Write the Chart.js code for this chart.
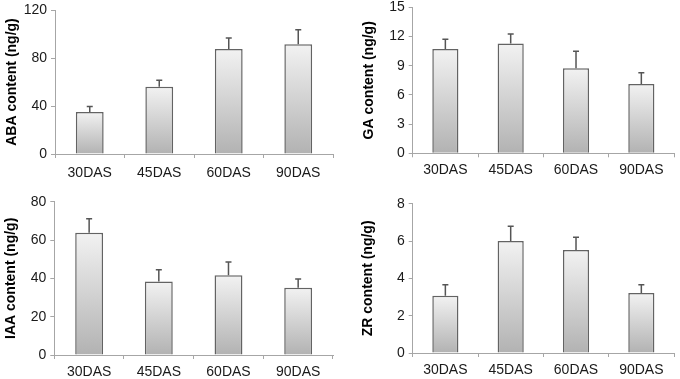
<!DOCTYPE html>
<html>
<head>
<meta charset="utf-8">
<script src="https://cdn.jsdelivr.net/npm/chart.js@4/dist/chart.umd.min.js"></script>
<style>
  html, body { margin: 0; padding: 0; background: #fff; }
  #wrap { position: relative; width: 680px; height: 379px; }
  .panel { position: absolute; }
</style>
</head>
<body>
<div id="wrap">
  <div class="panel" style="left:0;top:0;"><canvas id="c1" width="340" height="189"></canvas></div>
  <div class="panel" style="left:340px;top:0;"><canvas id="c2" width="340" height="189"></canvas></div>
  <div class="panel" style="left:0;top:189px;"><canvas id="c3" width="340" height="190"></canvas></div>
  <div class="panel" style="left:340px;top:189px;"><canvas id="c4" width="340" height="190"></canvas></div>
</div>
<script>
const categories = ['30DAS', '45DAS', '60DAS', '90DAS'];

const abaValues = [35, 56, 87.6, 91.5];
const abaErrors = [4.6, 5.5, 9, 12];

const gaValues = [10.72, 11.27, 8.73, 7.12];
const gaErrors = [1.0, 0.99, 1.75, 1.16];

const iaaValues = [63.8, 38.3, 41.6, 35.1];
const iaaErrors = [7.3, 6.2, 6.9, 4.5];

const zrValues = [3.07, 6.0, 5.52, 3.21];
const zrErrors = [0.59, 0.79, 0.68, 0.45];

const FONT = "'Liberation Sans', Arial, Helvetica, sans-serif";

const errorBarPlugin = {
  id: 'errorBars',
  afterDatasetsDraw(chart) {
    const errs = chart.options.plugins.errorBars.errors;
    const meta = chart.getDatasetMeta(0);
    const y = chart.scales.y;
    const ctx = chart.ctx;
    ctx.save();
    ctx.strokeStyle = '#555';
    ctx.lineWidth = 1.5;
    meta.data.forEach((bar, i) => {
      const v = chart.data.datasets[0].data[i];
      const yTop = y.getPixelForValue(v + errs[i]);
      const yVal = y.getPixelForValue(v);
      ctx.beginPath();
      ctx.moveTo(bar.x, yVal);
      ctx.lineTo(bar.x, yTop);
      ctx.moveTo(bar.x - 3, yTop);
      ctx.lineTo(bar.x + 3, yTop);
      ctx.stroke();
    });
    ctx.restore();
  }
};

function makeChart(id, values, errors, title, max, step, cfg) {
  const ctxEl = document.getElementById(id);
  return new Chart(ctxEl, {
    type: 'bar',
    data: {
      labels: categories,
      datasets: [{
        data: values,
        backgroundColor: (c) => {
          const chart = c.chart;
          const ys = chart.scales.y;
          if (!ys || c.dataIndex === undefined || !chart.chartArea) return '#d8d8d8';
          const v = values[c.dataIndex];
          const top = ys.getPixelForValue(v);
          const bot = ys.getPixelForValue(0);
          const g = chart.ctx.createLinearGradient(0, top, 0, bot);
          g.addColorStop(0, '#f2f2f2');
          g.addColorStop(1, '#b2b2b2');
          return g;
        },
        borderColor: '#636363',
        borderWidth: 1.5,
        borderSkipped: 'start',
        barPercentage: 0.4,
        categoryPercentage: 1.0
      }]
    },
    options: {
      responsive: false,
      animation: false,
      devicePixelRatio: 1,
      layout: { padding: { left: 0, right: cfg.right, top: cfg.top, bottom: 0 } },
      plugins: {
        legend: { display: false },
        tooltip: { enabled: false },
        errorBars: { errors: errors }
      },
      scales: {
        x: {
          grid: { display: true, drawOnChartArea: false, drawTicks: true, tickLength: 4, color: '#a6a6a6', offset: true },
          border: { display: true, color: '#a6a6a6', width: 1 },
          ticks: { font: { family: FONT, size: 14 }, color: '#1a1a1a', padding: cfg.xpad, maxRotation: 0 },
          afterFit: (s) => { s.height = cfg.xh; s.paddingLeft = 0; s.paddingRight = 0; }
        },
        y: {
          min: 0,
          max: max,
          grid: { display: true, drawOnChartArea: false, drawTicks: true, tickLength: 4, color: '#a6a6a6' },
          border: { display: true, color: '#a6a6a6', width: 1 },
          ticks: { stepSize: step, font: { family: FONT, size: 14 }, color: '#1a1a1a', padding: 4 },
          title: {
            display: true,
            text: title,
            font: { family: FONT, size: 14, weight: 'bold' },
            color: '#000',
            padding: { top: cfg.tpad, bottom: 0 }
          },
          afterFit: (s) => { s.width = cfg.yw; s.paddingTop = 0; s.paddingBottom = 0; }
        }
      }
    },
    plugins: [errorBarPlugin]
  });
}

makeChart('c1', abaValues, abaErrors, 'ABA content (ng/g)', 120, 40,
  { right: 7, top: 10, xh: 35, xpad: 6.5, yw: 55, tpad: 3.3 });
makeChart('c2', gaValues, gaErrors, 'GA content (ng/g)', 15, 3,
  { right: 6, top: 7.3, xh: 35.7, xpad: 4.3, yw: 72.7, tpad: 21 });
makeChart('c3', iaaValues, iaaErrors, 'IAA content (ng/g)', 80, 20,
  { right: 7, top: 12.7, xh: 24, xpad: 4.3, yw: 54.3, tpad: 2.6 });
makeChart('c4', zrValues, zrErrors, 'ZR content (ng/g)', 8, 2,
  { right: 6, top: 14.7, xh: 26, xpad: 4.6, yw: 72.7, tpad: 20 });
</script>
</body>
</html>
